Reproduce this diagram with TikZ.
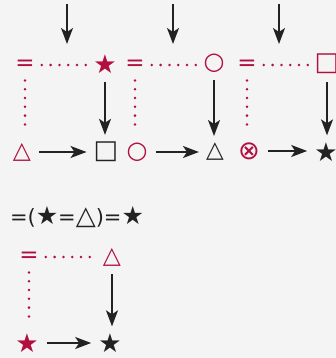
\documentclass[tikz,border=0pt]{standalone}
\usepackage{fontspec}
\setmainfont{DejaVu Sans}
\usepackage{tikz}
\usetikzlibrary{arrows.meta, positioning, calc}
\definecolor{symred}{RGB}{178,14,62}
\definecolor{bggray}{RGB}{244,244,244}
\definecolor{symgray}{RGB}{34,34,34}
\newcommand{\eqsym}[2]{{\fontsize{#1}{#1}\selectfont #2}}
\tikzset{
  sym/.style={
    inner sep=0pt, font=\fontsize{#1}{#1}\selectfont, text=symgray
  },
  redsym/.style={sym=#1, text=symred},
  eqtext/.style={inner sep=0pt, font=\fontsize{21}{21}\selectfont, text=symgray},
  inarrow/.style={
    -{Stealth[length=16pt, width=12pt, inset=4pt]}, line width=1.5pt,
    color=symgray
  },
  arrow/.style={inarrow, shorten <=8pt, shorten >=7pt},
  dotline/.style={
    line width=2.8pt, color=symred, line cap=round,
    dash pattern=on 0pt off 8.8pt
  },
  hdots/.style={dotline, shorten <=7pt, shorten >=6pt},
  vdots/.style={dotline, shorten <=10pt, shorten >=10pt}
}
\begin{document}
\begin{tikzpicture}[x=1pt, y=-1pt]
  \fill[bggray] (0,0) rectangle (336,358);
  \useasboundingbox (0,0) rectangle (336,358);

  % first square
  \node[redsym=23] (eqa) at (25,65) {=};
  \node[redsym=26] (stara) at (105,64) {★};
  \node[redsym=23.5] (tria) at (22,152) {△};
  \node[sym=26] (sqa) at (106,152) {□};
  \coordinate (ina) at (67,4);
  \coordinate (outa) at (67,44);

  % second square
  \node[redsym=23] (eqb) at (135,65) {=};
  \node[redsym=24] (circb) at (214,63) {○};
  \node[redsym=24] (circc) at (137,152) {○};
  \node[sym=23] (trib) at (215,152) {△};
  \coordinate (inb) at (173,4);
  \coordinate (outb) at (173,44);

  % third square
  \node[redsym=23] (eqc) at (247,65) {=};
  \node[redsym=26] (sqc) at (327,64) {□};
  \node[redsym=26] (otc) at (249,151) {⊗};
  \node[sym=26] (starc) at (326,152) {★};
  \coordinate (inc) at (279,4);
  \coordinate (outc) at (279,44);

  \node[eqtext] (eqn) at (77,217)
    {=(\eqsym{25}{★}=\eqsym{26}{△})=\eqsym{25}{★}};

  % fourth square
  \node[redsym=23] (eqd) at (29,257) {=};
  \node[redsym=23.5] (trid) at (112,257) {△};
  \node[redsym=26] (stard) at (27,343) {★};
  \node[sym=26] (stare) at (110,343) {★};

  \draw[inarrow] (ina) -- (outa);
  \draw[inarrow] (inb) -- (outb);
  \draw[inarrow] (inc) -- (outc);

  \draw[hdots] (eqa.east) -- (eqa.east -| stara.west);
  \draw[vdots] (eqa.south) -- (eqa.south |- tria.north);
  \draw[arrow] (stara.south) -- (stara.south |- sqa.north);
  \draw[arrow] (tria.east) -- (tria.east -| sqa.west);

  \draw[hdots] (eqb.east) -- (eqb.east -| circb.west);
  \draw[vdots] (eqb.south) -- (eqb.south |- circc.north);
  \draw[arrow] (circb.south) -- (circb.south |- trib.north);
  \draw[arrow] (circc.east) -- (circc.east -| trib.west);

  \draw[hdots] (eqc.east) -- (eqc.east -| sqc.west);
  \draw[vdots] (eqc.south) -- (eqc.south |- otc.north);
  \draw[arrow] (sqc.south) -- (sqc.south |- starc.north);
  \draw[arrow] (otc.east) -- (otc.east -| starc.west);

  \draw[hdots] (eqd.east) -- (eqd.east -| trid.west);
  \draw[vdots] (eqd.south) -- (eqd.south |- stard.north);
  \draw[arrow] (trid.south) -- (trid.south |- stare.north);
  \draw[arrow] (stard.east) -- (stard.east -| stare.west);
\end{tikzpicture}
\end{document}
